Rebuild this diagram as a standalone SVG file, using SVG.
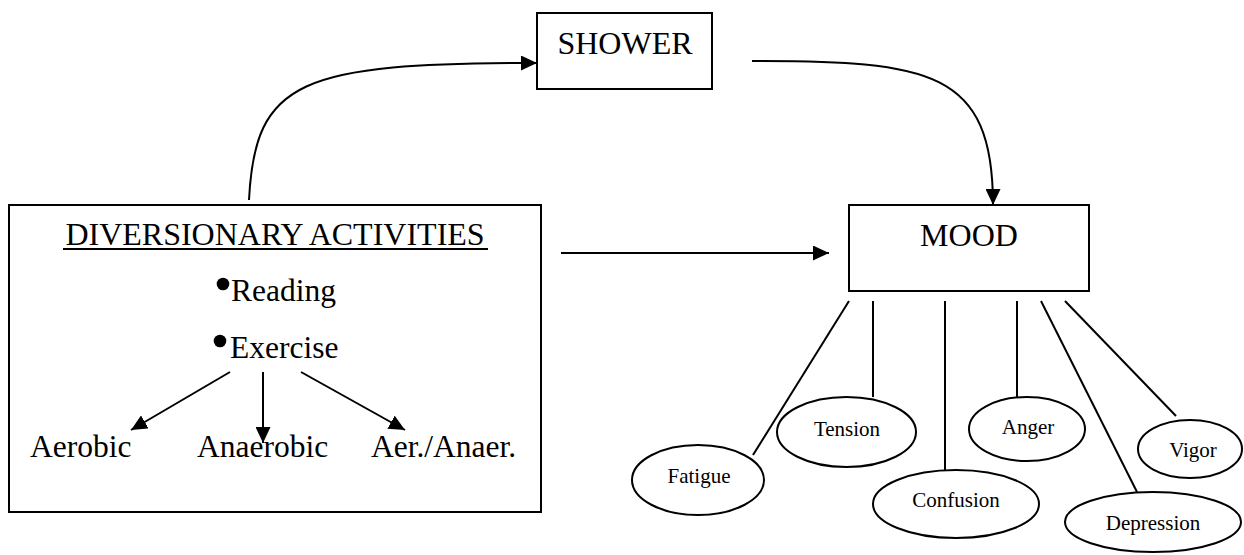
<svg xmlns="http://www.w3.org/2000/svg" width="1244" height="555" viewBox="0 0 1244 555">
<style>
.box{fill:#fff;stroke:#000;stroke-width:2}
.ell{fill:#fff;stroke:#000;stroke-width:2}
.big{font-family:"Liberation Serif","Times New Roman",serif;font-size:32px;fill:#000}
.item{font-family:"Liberation Serif","Times New Roman",serif;font-size:31.5px;fill:#000}
.small{font-family:"Liberation Serif","Times New Roman",serif;font-size:21px;fill:#000;text-anchor:middle}
.mid{text-anchor:middle}
.con{fill:none;stroke:#000;stroke-width:2}
.arr{marker-end:url(#ah)}
</style>
<defs>
<marker id="ah" markerUnits="userSpaceOnUse" markerWidth="16" markerHeight="15" viewBox="0 0 16 15" refX="16" refY="7.5" orient="auto">
<path d="M0,0 L16,7.5 L0,15 z" fill="#000"/>
</marker>
</defs>
<rect width="1244" height="555" fill="#fff"/>

<g id="shower">
<rect class="box" x="537" y="13" width="175" height="76"/>
<text class="big mid" x="625" y="54">SHOWER</text>
</g>

<g id="diversionary">
<rect class="box" x="9" y="205" width="532" height="307"/>
<text class="big mid" x="275" y="245">DIVERSIONARY ACTIVITIES</text>
<line x1="63" y1="249" x2="488" y2="249" stroke="#000" stroke-width="2"/>
<circle cx="223" cy="284" r="6.3" fill="#000"/>
<text class="item" x="231" y="301">Reading</text>
<circle cx="220" cy="341" r="6.3" fill="#000"/>
<text class="item" x="230" y="358">Exercise</text>
<text class="item" x="30" y="457">Aerobic</text>
<text class="item" x="197" y="457">Anaerobic</text>
<text class="item" x="371" y="457">Aer./Anaer.</text>
</g>

<g id="mood">
<rect class="box" x="849" y="205" width="240" height="86"/>
<text class="big mid" x="969" y="246">MOOD</text>
</g>

<g id="fatigue">
<ellipse class="ell" cx="698" cy="480" rx="66" ry="35"/>
<text class="small" x="699" y="483">Fatigue</text>
</g>
<g id="tension">
<ellipse class="ell" cx="846.5" cy="432" rx="69.5" ry="35"/>
<text class="small" x="847" y="436">Tension</text>
</g>
<g id="confusion">
<ellipse class="ell" cx="956" cy="504" rx="83" ry="34"/>
<text class="small" x="956" y="507">Confusion</text>
</g>
<g id="anger">
<ellipse class="ell" cx="1027" cy="429" rx="58" ry="32"/>
<text class="small" x="1028" y="434">Anger</text>
</g>
<g id="depression">
<ellipse class="ell" cx="1153" cy="522" rx="88" ry="30"/>
<text class="small" x="1153" y="530">Depression</text>
</g>
<g id="vigor">
<ellipse class="ell" cx="1190" cy="449" rx="52" ry="29"/>
<text class="small" x="1193" y="457">Vigor</text>
</g>

<g id="connectors">
<path class="con arr" d="M249,200 C255,80 300,63 537,63"/>
<path class="con arr" d="M752,61 C930,61 993,70 993,205"/>
<line class="con arr" x1="561" y1="253" x2="829" y2="253"/>
<line class="con arr" x1="230" y1="372" x2="131" y2="430"/>
<line class="con arr" x1="263" y1="372" x2="263" y2="443"/>
<line class="con arr" x1="301" y1="372" x2="405" y2="430"/>
<line class="con" x1="849" y1="301" x2="753" y2="455"/>
<line class="con" x1="873" y1="301" x2="873" y2="397"/>
<line class="con" x1="945" y1="301" x2="945" y2="471"/>
<line class="con" x1="1017" y1="301" x2="1017" y2="397"/>
<line class="con" x1="1041" y1="301" x2="1137" y2="492"/>
<line class="con" x1="1065" y1="301" x2="1176" y2="416"/>
</g>
</svg>
